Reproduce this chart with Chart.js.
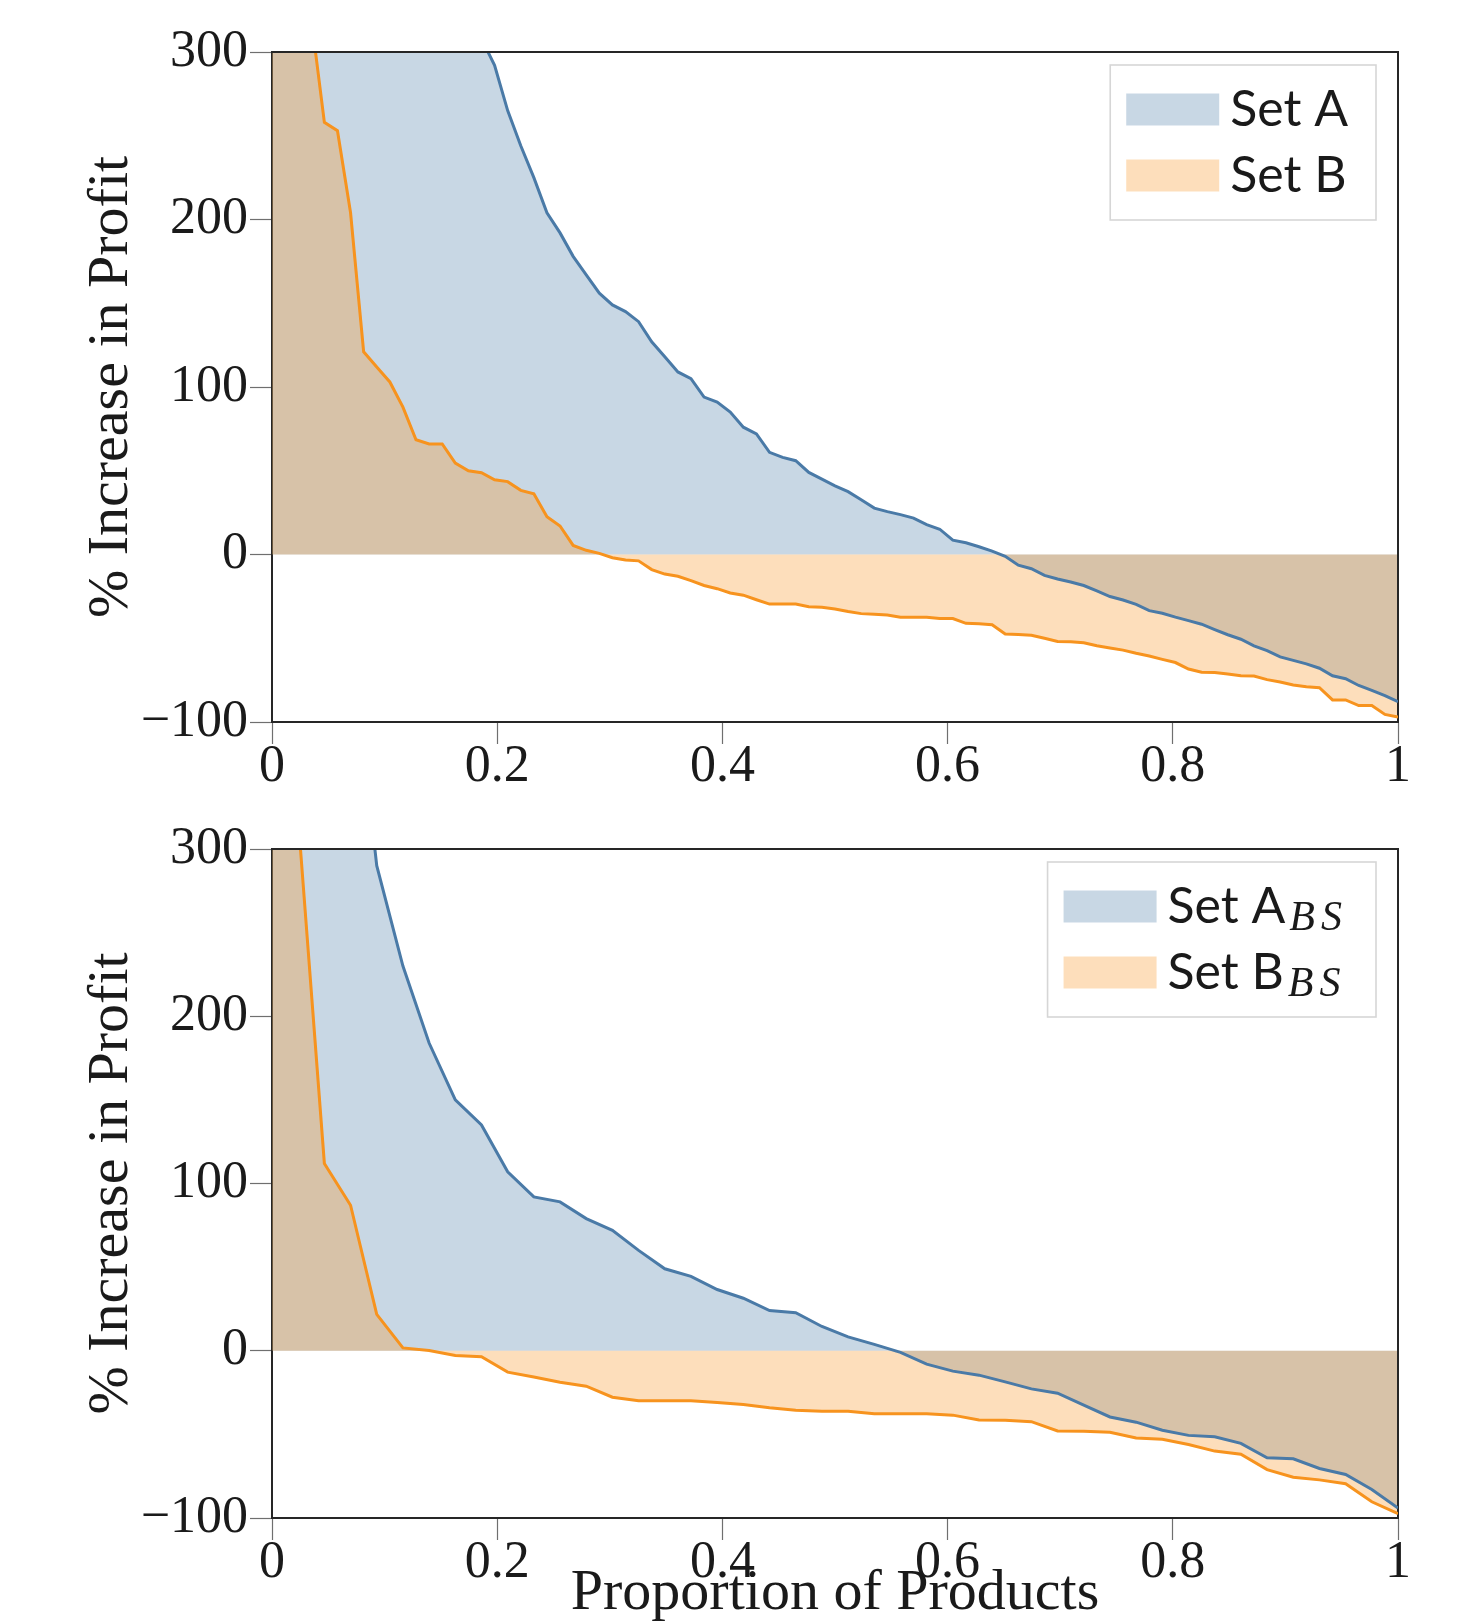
<!DOCTYPE html>
<html>
<head>
<meta charset="utf-8">
<title>% Increase in Profit</title>
<script src="https://cdn.jsdelivr.net/npm/chart.js@4.4.1/dist/chart.umd.min.js"></script>
<style>
  html, body { margin: 0; padding: 0; background: #fff; }
  #page { position: relative; width: 1458px; height: 1624px; overflow: hidden; }
  .panel { position: absolute; left: 0; width: 1458px; }
  #panelTop { top: 0; height: 800px; }
  #panelBottom { top: 800px; height: 824px; }
</style>
</head>
<body>
<div id="page">
  <div class="panel" id="panelTop"><canvas id="chartTop"></canvas></div>
  <div class="panel" id="panelBottom"><canvas id="chartBottom"></canvas></div>
</div>
<script>
/* global Chart */

// Products are sorted by profit change and spread evenly over x = 0..1.
// The first few values of each curve are above the 300 axis limit (clipped).

// top panel, 87 products
const topSetA = [
  1450, 1100, 900, 760, 660, 590, 530, 480, 445, 415, 390, 370, 352, 338, 327, 317,
  308, 292, 265, 244, 225, 204, 192, 178, 167, 156, 149, 145, 139, 127, 118, 109,
  105, 94, 91, 85, 76, 72, 61, 58, 56, 49, 45, 41, 37.5, 32.7, 27.7, 25.6,
  23.8, 21.7, 17.8, 15.1, 8.6, 7.0, 4.6, 2.0, -1.1, -6.4, -8.5, -12.5, -14.6, -16.4,
  -18.5, -21.7, -25.1, -27.2, -29.8, -33.5, -35.1, -37.4, -39.5, -41.6, -44.8, -47.9,
  -50.6, -54.5, -57.4, -61.1, -63.2, -65.3, -67.9, -72.4, -74.2, -78.2, -81.1, -84.2,
  -87.9,
];
const topSetB = [
  820, 560, 400, 320, 258, 253, 204, 121, 112, 103, 88, 68.5, 66, 66, 54.6, 50,
  48.8, 44.6, 43.5, 38.3, 36.2, 22.5, 17, 5.4, 2.5, 0.7, -1.9, -3.3, -3.8, -9.0,
  -11.7, -13, -15.6, -18.5, -20.4, -23, -24.3, -27, -29.6, -29.6, -29.6, -31.2,
  -31.5, -32.5, -34, -35.3, -35.7, -36.1, -37.4, -37.4, -37.4, -38.2, -38.2, -41.1,
  -41.3, -41.9, -47.4, -47.7, -48.2, -50, -51.9, -52.1, -52.7, -54.5, -55.8, -57.1,
  -59, -60.6, -62.6, -64.5, -68.4, -70.3, -70.5, -71.3, -72.4, -72.6, -74.7, -76.1,
  -77.9, -79, -79.5, -86.8, -86.8, -90.2, -90.2, -95.5, -97.1,
];

// bottom panel, 44 products
const bottomSetA = [
  1500, 900, 600, 430, 290, 230, 184, 150, 135, 107, 92, 89, 79, 72, 60, 49,
  44.5, 36.6, 31.4, 24, 22.7, 14.5, 8.3, 3.8, -1, -8, -12.2, -14.6, -18.6, -22.8,
  -25.4, -32.5, -39.6, -42.7, -47.5, -50.6, -51.4, -55.4, -64, -64.6, -70.4, -74,
  -83, -94,
];
const bottomSetB = [
  700, 318, 112, 87, 21.7, 1.7, 0.1, -2.8, -3.6, -12.8, -15.7, -18.8, -21.2, -27.8,
  -29.9, -29.9, -29.9, -30.9, -32.2, -34.1, -35.6, -36.2, -36.2, -37.7, -37.7, -37.7,
  -38.5, -41.4, -41.6, -42.4, -48, -48.2, -48.7, -52.1, -52.9, -56.1, -60, -61.9,
  -71.1, -75.6, -77.2, -79.5, -90.3, -97.4,
];

const xTicks = [0, 0.2, 0.4, 0.6, 0.8, 1];
const xTickLabels = ['0', '0.2', '0.4', '0.6', '0.8', '1'];
const yTicks = [-100, 0, 100, 200, 300];
const yTickLabels = ['\u2212100', '0', '100', '200', '300'];

const BLUE = '#4a7aa7';
const ORANGE = '#f7931e';
const BLUE_FILL = 'rgba(74, 122, 167, 0.3)';
const ORANGE_FILL = 'rgba(247, 147, 30, 0.3)';
const FRAME = '#262626';
const INK = '#1a1a1a';
const SERIF = "'Liberation Serif', 'Times New Roman', serif";

/**
 * values -> {x, y} points, x = share of products
 * @param {number[]} values
 */
function toPoints(values) {
  return values.map((y, i) => ({ x: i / (values.length - 1), y: y }));
}

// right border under the fills, top border above them
const framePlugin = {
  id: 'frame',
  beforeDatasetsDraw(chart) {
    const { ctx, chartArea: a } = chart;
    ctx.save();
    ctx.strokeStyle = FRAME;
    ctx.lineWidth = 2;
    ctx.beginPath();
    ctx.moveTo(a.right, a.top);
    ctx.lineTo(a.right, a.bottom);
    ctx.stroke();
    ctx.restore();
  },
  afterDatasetsDraw(chart) {
    const { ctx, chartArea: a } = chart;
    ctx.save();
    ctx.strokeStyle = FRAME;
    ctx.lineWidth = 2;
    ctx.beginPath();
    ctx.moveTo(a.left - 1, a.top);
    ctx.lineTo(a.right + 1, a.top);
    ctx.stroke();
    ctx.restore();
  },
};

// framed legend in the upper right corner of the plot
const boxLegendPlugin = {
  id: 'boxLegend',
  afterDraw(chart, args, opts) {
    const { ctx, chartArea } = chart;
    const mainFont = "50px Lato, 'DejaVu Sans', sans-serif";
    const subFont = 'italic 42px ' + SERIF;
    const subSpacing = '6px';
    const datasets = chart.data.datasets;

    ctx.save();
    let textW = 0;
    datasets.forEach((ds) => {
      ctx.font = mainFont;
      ctx.letterSpacing = '0px';
      let w = ctx.measureText(ds.label).width;
      if (opts.sub) {
        ctx.font = subFont;
        ctx.letterSpacing = subSpacing;
        w += 4 + ctx.measureText(opts.sub).width;
      }
      textW = Math.max(textW, w);
    });

    const boxW = 16 + 93 + 11 + textW + 28;
    const boxH = 155;
    const right = chartArea.right - 22;
    const top = chartArea.top + 13;
    const left = right - boxW;

    ctx.fillStyle = '#fff';
    ctx.fillRect(left, top, boxW, boxH);
    ctx.strokeStyle = '#d6d6d6';
    ctx.lineWidth = 1.6;
    ctx.strokeRect(left, top, boxW, boxH);

    datasets.forEach((ds, i) => {
      const sy = top + 28.5 + i * 66;
      ctx.fillStyle = ds.backgroundColor;
      ctx.fillRect(left + 16, sy, 93, 32);

      const tx = left + 16 + 93 + 11;
      ctx.fillStyle = INK;
      ctx.textAlign = 'left';
      ctx.textBaseline = 'alphabetic';
      ctx.font = mainFont;
      ctx.letterSpacing = '0px';
      ctx.fillText(ds.label, tx, sy + 32);
      if (opts.sub) {
        const w = ctx.measureText(ds.label).width;
        ctx.font = subFont;
        ctx.letterSpacing = subSpacing;
        ctx.fillText(opts.sub, tx + w + 4, sy + 39);
      }
    });
    ctx.restore();
  },
};

/**
 * one panel
 * @param {string} canvasId
 * @param {number[]} setA
 * @param {number[]} setB
 * @param {{padTop: number, xAxisHeight: number, sub: string, xTitle: boolean}} opts
 */
function createPanel(canvasId, setA, setB, opts) {
  const tickFont = { family: SERIF, size: 52 };
  const titleFont = { family: SERIF, size: 58, lineHeight: '60px' };

  const ctx = /** @type {HTMLCanvasElement} */ (
    document.getElementById(canvasId)
  ).getContext('2d');

  new Chart(ctx, {
    type: 'line',
    data: {
      datasets: [
        {
          label: 'Set A',
          data: toPoints(setA),
          borderColor: BLUE,
          backgroundColor: BLUE_FILL,
          borderWidth: 3,
          pointRadius: 0,
          fill: { value: 0 },
          order: 1,
          clip: 0,
        },
        {
          label: 'Set B',
          data: toPoints(setB),
          borderColor: ORANGE,
          backgroundColor: ORANGE_FILL,
          borderWidth: 3,
          pointRadius: 0,
          fill: { value: 0 },
          order: 0,
          clip: 0,
        },
      ],
    },
    options: {
      responsive: true,
      maintainAspectRatio: false,
      animation: false,
      devicePixelRatio: 1,
      layout: {
        padding: { top: opts.padTop, right: 60, left: 0, bottom: 0 },
      },
      scales: {
        x: {
          type: 'linear',
          min: 0,
          max: 1,
          afterBuildTicks: (scale) => {
            scale.ticks = xTicks.map((v) => ({ value: v }));
          },
          afterFit: (scale) => {
            scale.height = opts.xAxisHeight;
          },
          ticks: {
            callback: (value, index) => xTickLabels[index],
            font: tickFont,
            color: INK,
            padding: -8,
            maxRotation: 0,
            autoSkip: false,
          },
          grid: {
            drawOnChartArea: false,
            tickLength: 22,
            tickColor: '#6f6f6f',
            tickWidth: 1.2,
          },
          border: { color: FRAME, width: 2 },
          title: {
            display: opts.xTitle,
            text: 'Proportion of Products',
            font: titleFont,
            color: INK,
            padding: 0,
          },
        },
        y: {
          min: -100,
          max: 300,
          afterBuildTicks: (scale) => {
            scale.ticks = yTicks.map((v) => ({ value: v }));
          },
          afterFit: (scale) => {
            scale.width = 272;
          },
          ticks: {
            callback: (value, index) => yTickLabels[index],
            font: tickFont,
            color: INK,
            padding: 2,
          },
          grid: {
            drawOnChartArea: false,
            tickLength: 22,
            tickColor: '#6f6f6f',
            tickWidth: 1.2,
          },
          border: { color: FRAME, width: 2 },
          title: {
            display: true,
            text: '% Increase in Profit',
            font: titleFont,
            color: INK,
            padding: { top: 82, bottom: 0 },
          },
        },
      },
      plugins: {
        legend: { display: false },
        tooltip: { enabled: false },
        filler: { drawTime: 'beforeDatasetsDraw' },
        boxLegend: { sub: opts.sub },
      },
    },
    plugins: [framePlugin, boxLegendPlugin],
  });
}

createPanel('chartTop', topSetA, topSetB, {
  padTop: 52,
  xAxisHeight: 78,
  sub: '',
  xTitle: false,
});
createPanel('chartBottom', bottomSetA, bottomSetB, {
  padTop: 49,
  xAxisHeight: 106,
  sub: 'BS',
  xTitle: true,
});
</script>
</body>
</html>
